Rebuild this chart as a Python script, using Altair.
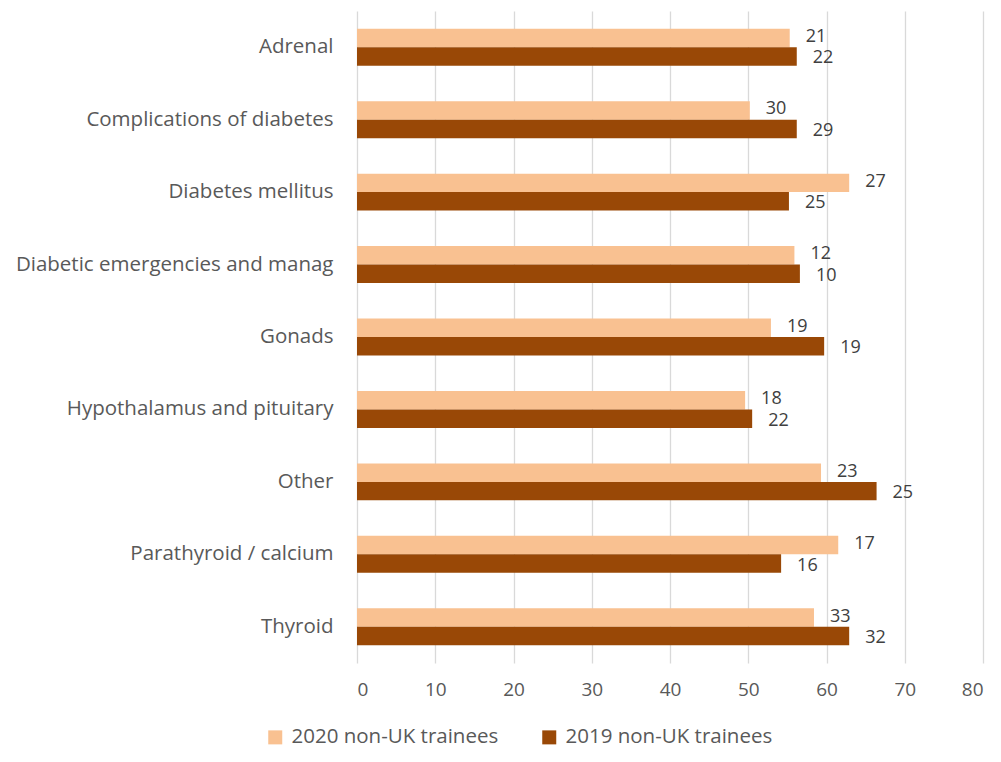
import altair as alt
import pandas as pd

categories = [
    "Adrenal",
    "Complications of diabetes",
    "Diabetes mellitus",
    "Diabetic emergencies and manag",
    "Gonads",
    "Hypothalamus and pituitary",
    "Other",
    "Parathyroid / calcium",
    "Thyroid",
]
series_names = ["2020 non-UK trainees", "2019 non-UK trainees"]
values_2020 = [55.3, 50.2, 62.9, 55.9, 52.9, 49.6, 59.3, 61.5, 58.4]
values_2019 = [56.2, 56.2, 55.2, 56.6, 59.7, 50.5, 66.4, 54.2, 62.9]
counts_2020 = [21, 30, 27, 12, 19, 18, 23, 17, 33]
counts_2019 = [22, 29, 25, 10, 19, 22, 25, 16, 32]
x_ticks = [0, 10, 20, 30, 40, 50, 60, 70, 80]

rows = []
for i, c in enumerate(categories):
    rows.append({"cat": c, "series": series_names[0], "value": values_2020[i], "n": counts_2020[i]})
    rows.append({"cat": c, "series": series_names[1], "value": values_2019[i], "n": counts_2019[i]})
df = pd.DataFrame(rows)

FONT = "Open Sans"
TXT = "#595959"

y_enc = alt.Y("cat:N", sort=categories, title=None,
              scale=alt.Scale(paddingInner=0.49, paddingOuter=0.245),
              axis=alt.Axis(domain=False, ticks=False, labelFontSize=20.5, labelColor=TXT,
                            labelFont=FONT, labelPadding=24, labelLimit=400))
yoff = alt.YOffset("series:N", sort=series_names, scale=alt.Scale(paddingInner=0, paddingOuter=0))
x_enc = alt.X("value:Q", title=None,
              scale=alt.Scale(domain=[0, 80], nice=False, zero=True),
              axis=alt.Axis(values=x_ticks, domain=False, ticks=False, grid=True,
                            gridColor="#d9d9d9", gridWidth=1.3, labelFontSize=19,
                            labelColor=TXT, labelFont=FONT, labelPadding=17))

bars = alt.Chart(df).mark_bar().encode(
    y=y_enc, yOffset=yoff, x=x_enc,
    color=alt.Color("series:N", sort=series_names,
                    scale=alt.Scale(domain=series_names, range=["#F9C191", "#994806"]),
                    legend=alt.Legend(title=None, orient="none", direction="horizontal",
                                      legendX=-92, legendY=716, symbolType="square",
                                      symbolSize=196, symbolStrokeWidth=0,
                                      labelFontSize=20.5, labelFont=FONT, labelColor=TXT,
                                      labelOffset=6, columnPadding=40, labelLimit=400)),
)

label_base = dict(align="left", baseline="middle", dx=16, fontSize=18, font=FONT, color="#404040")

labels_2020 = alt.Chart(df).transform_filter(
    alt.datum.series == series_names[0]
).mark_text(dy=-1, **label_base).encode(
    y=alt.Y("cat:N", sort=categories), yOffset=alt.YOffset("series:N", sort=series_names),
    x=alt.X("value:Q"), text=alt.Text("n:Q"),
)
labels_2019 = alt.Chart(df).transform_filter(
    alt.datum.series == series_names[1]
).mark_text(dy=2, **label_base).encode(
    y=alt.Y("cat:N", sort=categories), yOffset=alt.YOffset("series:N", sort=series_names),
    x=alt.X("value:Q"), text=alt.Text("n:Q"),
)

chart = (bars + labels_2020 + labels_2019).properties(
    width=626, height=652,
    autosize=alt.AutoSizeParams(type="none"),
    padding={"left": 349, "top": 3, "right": 10, "bottom": 89},
).configure_view(stroke=None)

chart.save("out.html", embed_options={"renderer": "svg", "actions": False})
